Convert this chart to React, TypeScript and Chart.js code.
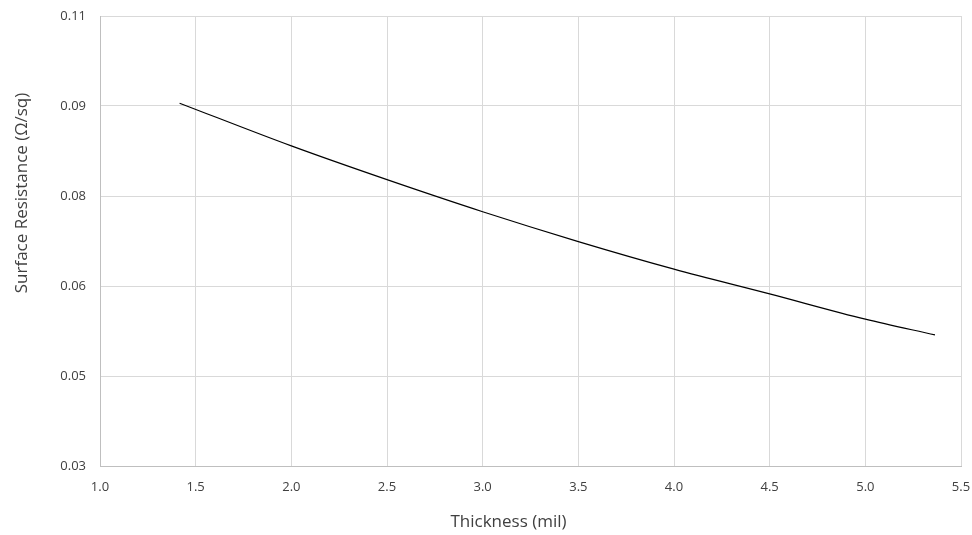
import React, { useEffect, useRef } from "react";
import { Chart, registerables } from "chart.js";

Chart.register(...registerables);

const thickness = [1.416, 2.0, 2.5, 3.0, 3.5, 4.0, 4.5, 5.0, 5.364];
const resistance = [0.0945, 0.0869, 0.0809, 0.0752, 0.0699, 0.065, 0.0606, 0.0561, 0.0533];
const xTitle = "Thickness (mil)";
const yTitle = "Surface Resistance (Ω/sq)";

const FONT = "'Open Sans', sans-serif";
const TITLE_COLOR = "#404040";

const titlesPlugin = {
  id: "axisTitles",
  afterDraw(chart: any) {
    const ctx = chart.ctx;
    const area = chart.chartArea;
    ctx.save();
    ctx.fillStyle = TITLE_COLOR;
    ctx.font = `17px ${FONT}`;
    ctx.textAlign = "center";
    ctx.textBaseline = "middle";
    ctx.fillText(xTitle, (area.left + area.right) / 2 - 22, chart.height - 13);
    ctx.translate(22, 193);
    ctx.rotate(-Math.PI / 2);
    ctx.fillText(yTitle, 0, 0);
    ctx.restore();
  },
};

export default function App() {
  const ref = useRef<HTMLCanvasElement>(null);
  useEffect(() => {
    document.body.style.margin = "0";
    const ctx = ref.current!;
    const chart = new Chart(ctx, {
      type: "scatter",
      data: {
        datasets: [
          {
            data: thickness.map((x, i) => ({ x, y: resistance[i] })),
            showLine: true,
            borderColor: "#000000",
            borderWidth: 1.2,
            pointRadius: 0,
            cubicInterpolationMode: "monotone",
          },
        ],
      },
      options: {
        animation: false,
        responsive: false,
        maintainAspectRatio: false,
        layout: { padding: { left: 0, right: 11, top: 16, bottom: 0 } },
        plugins: { legend: { display: false }, tooltip: { enabled: false } },
        scales: {
          x: {
            type: "linear",
            min: 1,
            max: 5.5,
            afterFit: (s: any) => {
              s.height = 69;
              s.paddingLeft = 0;
              s.paddingRight = 0;
            },
            ticks: {
              stepSize: 0.5,
              padding: 13,
              color: "#404040",
              font: { family: FONT, size: 13 },
              callback: (v: any) => Number(v).toFixed(1),
            },
            grid: { color: "#d9d9d9", drawTicks: false, lineWidth: 1 },
            border: { color: "#bfbfbf", width: 1 },
          },
          y: {
            type: "linear",
            min: 0.03,
            max: 0.11,
            afterFit: (s: any) => {
              s.width = 100;
              s.paddingTop = 0;
              s.paddingBottom = 0;
            },
            ticks: {
              stepSize: 0.016,
              padding: 14,
              color: "#404040",
              font: { family: FONT, size: 13 },
              callback: (v: any) => Number(v).toFixed(2),
            },
            grid: { color: "#d9d9d9", drawTicks: false, lineWidth: 1 },
            border: { color: "#bfbfbf", width: 1 },
          },
        },
      },
      plugins: [titlesPlugin],
    });
    return () => chart.destroy();
  }, []);
  return (
    <div style={{ width: 972, height: 535, background: "#ffffff" }}>
      <canvas ref={ref} width={972} height={535} />
    </div>
  );
}
